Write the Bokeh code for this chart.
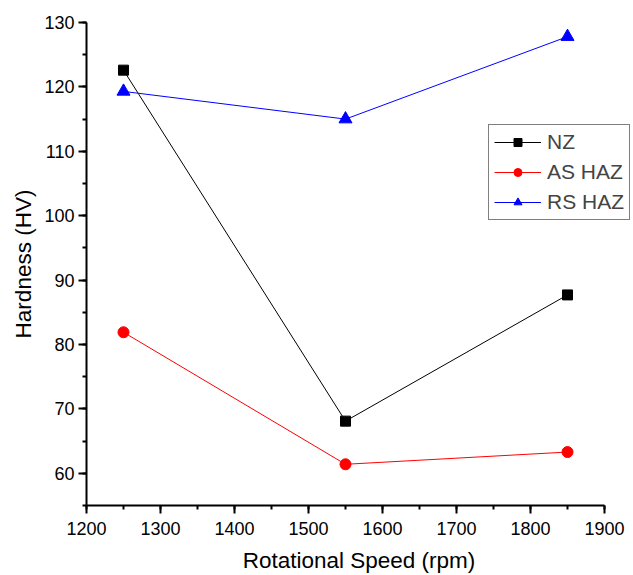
from bokeh.plotting import figure
from bokeh.models import Range1d, SingleIntervalTicker, Legend, LegendItem
from bokeh.embed import file_html
from bokeh.resources import INLINE

speed = [1250, 1550, 1850]
nz = [122.6, 68.1, 87.7]
as_haz = [81.9, 61.4, 63.3]
rs_haz = [119.3, 115.0, 127.8]

FONT = "Liberation Sans"

# frame extends past 1900 so the legend can sit to the right; axis bounded at 1900
p = figure(width=633, height=575, output_backend="svg", toolbar_location=None,
           x_range=Range1d(1200, 1200 + 545 * 100 / 74), y_range=Range1d(55, 130),
           min_border_left=86, min_border_right=2, min_border_top=22, min_border_bottom=70)
p.outline_line_color = None
p.xgrid.visible = False
p.ygrid.visible = False
p.background_fill_color = "white"
p.border_fill_color = "white"

p.xaxis.ticker = SingleIntervalTicker(interval=100, num_minor_ticks=2)
p.yaxis.ticker = SingleIntervalTicker(interval=10, num_minor_ticks=2)
p.xaxis.bounds = (1200, 1900)

for ax in (p.xaxis[0], p.yaxis[0]):
    ax.axis_line_width = 2
    ax.major_tick_line_width = 2
    ax.minor_tick_line_width = 2
    ax.major_tick_in = 0
    ax.major_tick_out = 8
    ax.minor_tick_in = 0
    ax.minor_tick_out = 4
    ax.major_label_text_font = FONT
    ax.major_label_text_font_size = "18px"
    ax.major_label_text_color = "black"
    ax.axis_label_text_font = FONT
    ax.axis_label_text_font_size = "22.5px"
    ax.axis_label_text_font_style = "normal"
    ax.axis_label_text_color = "black"
    ax.axis_line_color = "black"
    ax.major_tick_line_color = "black"
    ax.minor_tick_line_color = "black"

p.xaxis.axis_label = "Rotational Speed (rpm)"
p.yaxis.axis_label = "Hardness (HV)"
p.xaxis.major_label_standoff = 8
p.yaxis.major_label_standoff = 4
p.xaxis.axis_label_standoff = 10
p.yaxis.axis_label_standoff = 5

l1 = p.line(speed, nz, line_color="black", line_width=1)
s1 = p.scatter(speed, nz, marker="square", size=10, fill_color="black", line_color="black")
l2 = p.line(speed, as_haz, line_color="#ff0000", line_width=1)
s2 = p.scatter(speed, as_haz, marker="circle", size=11, fill_color="#ff0000", line_color="#ff0000")
l3 = p.line(speed, rs_haz, line_color="#0000ff", line_width=1)
s3 = p.scatter(speed, rs_haz, marker="triangle", size=13, fill_color="#0000ff", line_color="#0000ff")

legend = Legend(items=[
    LegendItem(label="NZ", renderers=[l1, s1]),
    LegendItem(label="AS HAZ", renderers=[l2, s2]),
    LegendItem(label="RS HAZ", renderers=[l3, s3]),
], location=(402, 285))
legend.label_text_font = FONT
legend.label_text_font_size = "21px"
legend.glyph_width = 47
legend.glyph_height = 20
legend.label_height = 20
legend.label_standoff = 6
legend.padding = 5
legend.spacing = 6
legend.margin = 0
legend.border_line_color = "black"
legend.border_line_width = 1
legend.background_fill_color = "white"
legend.background_fill_alpha = 1
p.add_layout(legend, "center")

open("out.html", "w").write(file_html(p, INLINE))
